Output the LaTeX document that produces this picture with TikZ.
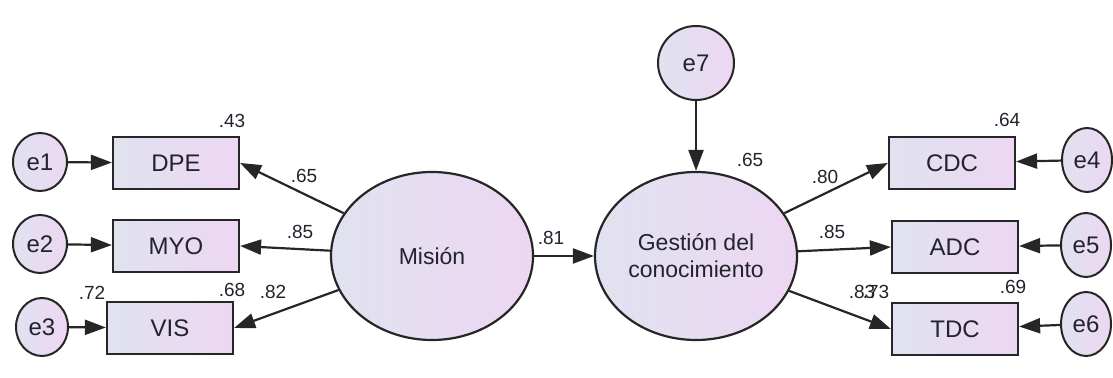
\documentclass[tikz,border=0pt]{standalone}
\usepackage{fontspec}
\setmainfont{Liberation Sans}
\usetikzlibrary{arrows.meta,shapes.geometric}
\definecolor{fillL}{RGB}{224,226,240}
\definecolor{fillR}{RGB}{237,215,242}
\definecolor{txt}{RGB}{35,35,45}
\tikzset{
  obs/.style={draw=black!85,line width=1.1pt,rectangle,minimum width=63pt,minimum height=26pt,inner sep=0pt,left color=fillL,right color=fillR,font=\fontsize{12}{14}\selectfont,text=txt},
  err/.style={draw=black!85,line width=1pt,ellipse,inner sep=0pt,left color=fillL,right color=fillR,font=\fontsize{12}{14}\selectfont,text=txt},
  lat/.style={draw=black!85,line width=1.1pt,ellipse,minimum width=101pt,minimum height=84pt,inner sep=0pt,left color=fillL,right color=fillR,font=\fontsize{11.5}{13.5}\selectfont,text=txt,align=center},
  num/.style={font=\fontsize{9.5}{11}\selectfont,text=txt,inner sep=0pt},
  arr/.style={line width=1.1pt,draw=black!85,-{Triangle[length=10.5pt,width=7.5pt]}},
}
\begin{document}
\begin{tikzpicture}[x=0.5pt,y=-0.5pt]
\useasboundingbox (0,0) rectangle (1113,378);
% observed
\node[obs] (DPE) at (176,163) {DPE};
\node[obs] (MYO) at (176,246) {MYO};
\node[obs] (VIS) at (170,328) {VIS};
\node[obs] (CDC) at (952,163) {CDC};
\node[obs] (ADC) at (955,247) {ADC};
\node[obs] (TDC) at (955,329) {TDC};
% errors
\node[err,minimum width=27pt,minimum height=29pt] (e1) at (40,162) {e1};
\node[err,minimum width=27pt,minimum height=29pt] (e2) at (40,244) {e2};
\node[err,minimum width=26pt,minimum height=29pt] (e3) at (42,327) {e3};
\node[err,minimum width=25pt,minimum height=32pt] (e4) at (1087,160) {e4};
\node[err,minimum width=25pt,minimum height=32pt] (e5) at (1086,245) {e5};
\node[err,minimum width=25pt,minimum height=32pt] (e6) at (1086,324) {e6};
\node[err,minimum width=38pt,minimum height=37pt] (e7) at (696,63) {e7};
% latent
\node[lat] (M) at (432,256) {Misión};
\node[lat] (G) at (696,256) {Gestión del\\conocimiento};
% arrows
\draw[arr] (e1) -- (DPE);
\draw[arr] (e2) -- (MYO);
\draw[arr] (e3) -- (VIS);
\draw[arr] (e4) -- (CDC);
\draw[arr] (e5) -- (ADC);
\draw[arr] (e6) -- (TDC);
\draw[arr] (e7) -- (G);
\draw[arr] (M) -- (DPE.east);
\draw[arr] (M) -- (MYO.east);
\draw[arr] (M) -- (VIS.east);
\draw[arr] (M) -- (G);
\draw[arr] (G) -- (CDC.west);
\draw[arr] (G) -- (ADC.west);
\draw[arr] (G) -- (TDC.west);
% numbers
\node[num] (n43) at (232,121) {.43};
\node[num] (n65a) at (304,176) {.65};
\node[num] (n85a) at (300,232) {.85};
\node[num] (n72) at (92,293) {.72};
\node[num] (n68) at (232,290) {.68};
\node[num] (n82) at (273,292) {.82};
\node[num] (n81) at (551,238) {.81};
\node[num] (n65b) at (750,160) {.65};
\node[num] (n80) at (825,177) {.80};
\node[num] (n85b) at (832,232) {.85};
\node[num] (n83) at (862,292) {.83};
\node[num] (n73) at (876,292) {.73};
\node[num] (n64) at (1007,120) {.64};
\node[num] (n69) at (1013,287) {.69};
\end{tikzpicture}
\end{document}
